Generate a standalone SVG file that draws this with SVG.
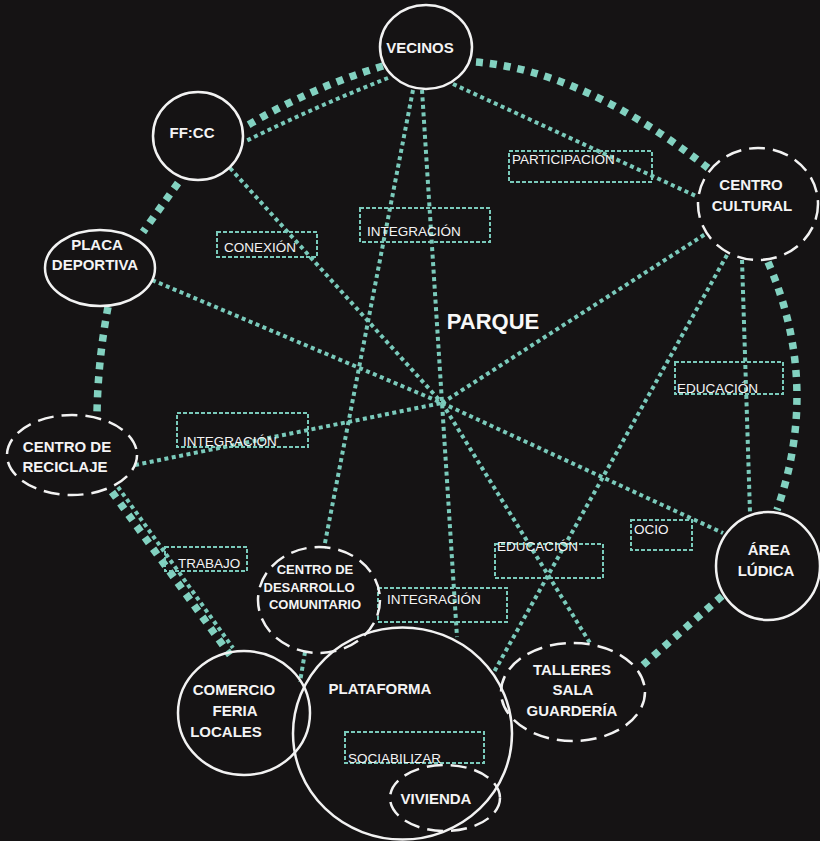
<svg xmlns="http://www.w3.org/2000/svg" width="820" height="841" viewBox="0 0 820 841">
<style>
.bg{fill:#151314}
.thick{fill:none;stroke:#82d1c0;stroke-width:7.5;stroke-dasharray:7 7}
.thin{fill:none;stroke:#7acabb;stroke-width:4;stroke-dasharray:4 3.5}
.node{fill:none;stroke:#f2f2f2;stroke-width:2.5}
.dash{stroke-dasharray:16 8}
.box{fill:none;stroke:#7acabb;stroke-width:2;stroke-dasharray:4 2}
.nt{font-family:"Liberation Sans","DejaVu Sans",sans-serif;font-weight:bold;font-size:15px;fill:#f4f4f4;text-anchor:middle}
.sm{font-size:13px}
.lt{font-family:"Liberation Sans","DejaVu Sans",sans-serif;font-size:13.5px;fill:#f4f4f4}
.big{font-family:"Liberation Sans","DejaVu Sans",sans-serif;font-weight:bold;font-size:22px;fill:#f8f8f8;text-anchor:middle}
</style>
<rect class="bg" x="0" y="0" width="820" height="841"/>
<g id="connectors">
  <path class="thick" d="M383,66 Q310,88 243,128"/>
  <path class="thick" d="M476,62 Q584,71 708,168"/>
  <path class="thick" d="M178,183 L143,232"/>
  <path class="thick" d="M108,307 Q98,360 97,413"/>
  <path class="thick" d="M112,492 L230,655"/>
  <path class="thick" d="M768,262 Q821,384 777,510"/>
  <path class="thick" d="M722,596 L643,665"/>
  <path class="thin" d="M388,78 Q317,106 246,141"/>
  <path class="thin" d="M453,84 L698,197"/>
  <path class="thin" d="M413,90 L324,548"/>
  <path class="thin" d="M305,652 L300,682"/>
  <path class="thin" d="M422,90 L457,637"/>
  <path class="thin" d="M230,168 L442,403"/>
  <path class="thin" d="M442,403 L590,643"/>
  <path class="thin" d="M152,280 L442,403"/>
  <path class="thin" d="M442,403 L723,533"/>
  <path class="thin" d="M135,465 L442,403"/>
  <path class="thin" d="M442,403 L707,233"/>
  <path class="thin" d="M727,255 L494,672"/>
  <path class="thin" d="M742,260 L750,513"/>
  <path class="thin" d="M118,487 L233,648"/>
</g>
<g id="labels">
  <rect class="box" x="509" y="151" width="143" height="31"/><text class="lt" x="512" y="164">PARTICIPACIÓN</text>
  <rect class="box" x="360" y="208" width="130" height="34"/><text class="lt" x="367" y="236">INTEGRACIÓN</text>
  <rect class="box" x="217" y="232" width="100" height="25"/><text class="lt" x="224" y="252">CONEXIÓN</text>
  <rect class="box" x="177" y="413" width="131" height="34"/><text class="lt" x="183" y="446">INTEGRACIÓN</text>
  <rect class="box" x="675" y="362" width="108" height="32"/><text class="lt" x="677" y="393">EDUCACIÓN</text>
  <rect class="box" x="631" y="520" width="61" height="30"/><text class="lt" x="634" y="534">OCIO</text>
  <rect class="box" x="495" y="544" width="108" height="34"/><text class="lt" x="497" y="551">EDUCACIÓN</text>
  <rect class="box" x="165" y="547" width="82" height="24"/><text class="lt" x="178" y="568">TRABAJO</text>
  <rect class="box" x="378" y="588" width="129" height="34"/><text class="lt" x="387" y="604">INTEGRACIÓN</text>
  <rect class="box" x="345" y="732" width="139" height="31"/><text class="lt" x="348" y="763">SOCIABILIZAR</text>
</g>
<text class="big" x="493" y="329">PARQUE</text>
<g id="vecinos"><ellipse class="node" cx="426" cy="47" rx="46" ry="42"/><text class="nt" x="420" y="53">VECINOS</text></g>
<g id="ffcc"><ellipse class="node" cx="198" cy="136" rx="45" ry="44"/><text class="nt" x="192" y="138">FF:CC</text></g>
<g id="placa"><ellipse class="node" cx="100" cy="268" rx="55" ry="38"/><text class="nt" x="97" y="250">PLACA</text><text class="nt" x="95" y="270">DEPORTIVA</text></g>
<g id="reciclaje"><ellipse class="node dash" cx="72" cy="455" rx="65" ry="40"/><text class="nt" x="67" y="452">CENTRO DE</text><text class="nt" x="65" y="472">RECICLAJE</text></g>
<g id="cultural"><ellipse class="node dash" cx="758" cy="204" rx="60" ry="56"/><text class="nt" x="751" y="190">CENTRO</text><text class="nt" x="752" y="211">CULTURAL</text></g>
<g id="ludica"><ellipse class="node" cx="768" cy="566" rx="52" ry="54"/><text class="nt" x="769" y="555">ÁREA</text><text class="nt" x="766" y="576">LÚDICA</text></g>
<g id="talleres"><ellipse class="node dash" cx="573" cy="692" rx="72" ry="49"/><text class="nt" x="572" y="675">TALLERES</text><text class="nt" x="573" y="695">SALA</text><text class="nt" x="572" y="716">GUARDERÍA</text></g>
<g id="desarrollo"><ellipse class="node dash" cx="319" cy="600" rx="61" ry="53"/><text class="nt sm" x="315" y="574">CENTRO DE</text><text class="nt sm" x="309" y="592">DESARROLLO</text><text class="nt sm" x="315" y="609">COMUNITARIO</text></g>
<g id="comercio"><ellipse class="node" cx="244" cy="713" rx="66" ry="62"/><text class="nt" x="234" y="695">COMERCIO</text><text class="nt" x="235" y="716">FERIA</text><text class="nt" x="226" y="737">LOCALES</text></g>
<g id="plataforma"><ellipse class="node" cx="402.5" cy="733.5" rx="109.5" ry="106"/><text class="nt" x="380" y="694">PLATAFORMA</text></g>
<g id="vivienda"><ellipse class="node dash" cx="445" cy="798" rx="55" ry="33"/><text class="nt" x="436" y="804">VIVIENDA</text></g>
</svg>
